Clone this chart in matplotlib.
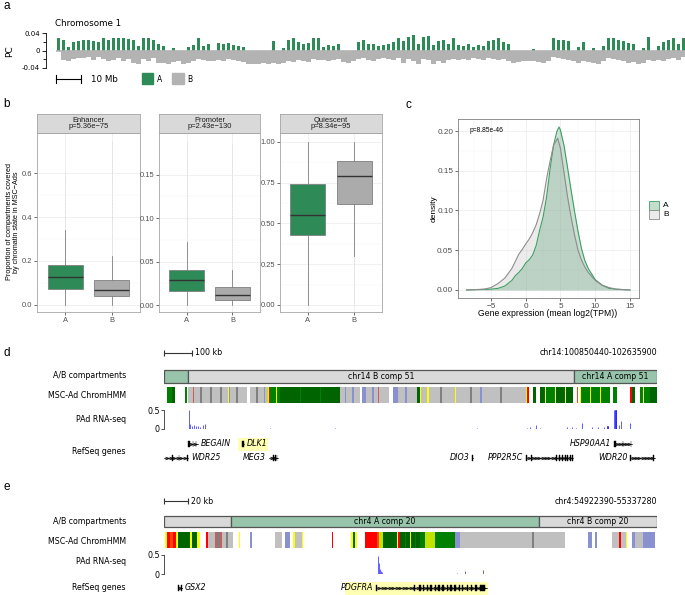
import numpy as np
import matplotlib
matplotlib.use("Agg")
import matplotlib.pyplot as plt
from matplotlib.patches import Rectangle
from matplotlib.transforms import blended_transform_factory

plt.rcParams['font.family'] = 'DejaVu Sans'
GG = 'Liberation Sans'

W, H = 685, 595

# ---------------- data ----------------
# panel a: PC1 on chromosome 1, 2 Mb bins, values x1000 (max A / min B per bin)
pc_bin_mb = 2
pc_pos = [28, 25, 8, 20, 22, 25, 25, 22, 20, 28,
          25, 30, 28, 30, 27, 25, 10, 28, 30, 24,
          15, 10, 0, 5, 0, 0, 8, 12, 30, 10,
          15, 0, 18, 15, 18, 12, 10, 8, 0, 0,
          0, 0, 0, 22, 0, 5, 25, 28, 20, 15,
          18, 28, 30, 8, 12, 10, 15, 0, 0, 0,
          20, 25, 15, 15, 10, 12, 15, 20, 28, 22,
          32, 35, 15, 32, 33, 12, 22, 25, 15, 28,
          12, 10, 15, 8, 12, 10, 22, 25, 28, 20,
          15, 0, 0, 0, 0, 3, 0, 0, 0, 28,
          25, 25, 22, 0, 8, 20, 0, 5, 0, 10,
          28, 30, 25, 22, 18, 15, 0, 5, 32, 0,
          10, 20, 25, 28, 15, 28]
pc_neg = [0, -22, -25, -20, -18, -18, -15, -22, -15, -20,
          -25, -22, -18, -25, -20, -28, -30, -20, -25, -18,
          -28, -28, -30, -26, -25, -30, -28, -24, -20, -22,
          -25, -24, -22, -25, -20, -22, -24, -26, -30, -32,
          -30, -28, -30, -28, -30, -28, -24, -26, -22, -24,
          -26, -20, -22, -22, -24, -22, -20, -26, -28, -24,
          -20, -18, -22, -25, -20, -18, -20, -22, -18, -28,
          -20, -25, -30, -20, -22, -30, -25, -28, -22, -20,
          -22, -20, -22, -18, -20, -22, -18, -20, -22, -20,
          -25, -28, -26, -25, -24, -25, -27, -28, -25, -15,
          -18, -20, -22, -25, -28, -24, -26, -28, -30, -25,
          -18, -20, -22, -25, -28, -26, -30, -28, -22, -25,
          -22, -24, -20, -18, -22, -15]

# panel b: box statistics  [whislo, q1, median, q3, whishi, outlier extreme]
box_states = ['Enhancer', 'Promoter', 'Quiescent']
box_pvals = ['p=5.36e\u221275', 'p=2.43e\u2212130', 'p=8.34e\u221295']
box_A = [[0.0, 0.074, 0.126, 0.183, 0.342, 0.61],
         [0.0, 0.0165, 0.029, 0.040, 0.073, 0.188],
         [0.0, 0.43, 0.555, 0.74, 1.0, 1.0]]
box_B = [[0.0, 0.042, 0.070, 0.115, 0.223, 0.745],
         [0.0, 0.0058, 0.0115, 0.0206, 0.040, 0.186],
         [0.30, 0.62, 0.79, 0.885, 1.0, 0.0]]
box_yticks = [[0, 0.2, 0.4, 0.6], [0, 0.05, 0.10, 0.15], [0, 0.25, 0.5, 0.75, 1.0]]
box_ylabels = [['0.0', '0.2', '0.4', '0.6'], ['0.00', '0.05', '0.10', '0.15'],
               ['0.00', '0.25', '0.50', '0.75', '1.00']]
box_ylim = [(-0.032, 0.782), (-0.008, 0.1977), (-0.043, 1.055)]

# panel c: density of gene expression
dens_A_x = [-8.5, -5, -4, -3, -2, -1.5, -1, -0.5, 0, 0.5, 1, 1.5, 2, 2.5, 3, 3.5, 4,
            4.5, 4.8, 5, 5.5, 6, 6.5, 7, 7.5, 8, 8.5, 9, 9.5, 10, 11, 12, 13, 15]
dens_A_y = [0, 0.001, 0.002, 0.005, 0.012, 0.018, 0.022, 0.027, 0.034, 0.038, 0.044,
            0.056, 0.075, 0.092, 0.117, 0.152, 0.182, 0.200, 0.205, 0.201, 0.182,
            0.155, 0.127, 0.100, 0.075, 0.053, 0.037, 0.027, 0.020, 0.013, 0.006,
            0.002, 0.001, 0]
dens_B_x = [-8.5, -6, -5, -4, -3, -2, -1.5, -1, -0.5, 0, 0.5, 1, 1.5, 2, 2.5, 3, 3.5,
            4, 4.6, 5, 5.5, 6, 6.5, 7, 7.5, 8, 8.5, 9, 10, 11, 12, 13, 15]
dens_B_y = [0, 0.001, 0.003, 0.008, 0.015, 0.027, 0.036, 0.045, 0.051, 0.058, 0.064,
            0.072, 0.082, 0.096, 0.113, 0.140, 0.162, 0.182, 0.191, 0.178, 0.148,
            0.118, 0.093, 0.070, 0.051, 0.038, 0.029, 0.022, 0.012, 0.006, 0.003,
            0.001, 0]

# ChromHMM state colours
state_colors = {'TssA': '#FF0000', 'TssFlnk': '#FF4500', 'Tx': '#008000',
                'TxWk': '#006400', 'EnhG': '#C2E105', 'Enh': '#FFFF00',
                'Het': '#8A91D0', 'TssBiv': '#CD5C5C', 'ReprPC': '#808080',
                'ReprPCWk': '#C0C0C0'}
comp_fill = {'A': '#97C4AA', 'B': '#D9D9D9'}

# panel d: chr14:100850440-102635900 (positions in kb from region start)
region_d = 1785.46
comp_d_edges = [0, 87, 1485, 1785.46]
comp_d_types = ['A', 'B', 'A']
comp_d_names = ['', 'chr14 B comp 51', 'chr14 A comp 51']
hmm_d = [(11, 29, 'Tx'), (29, 40, 'TxWk'), (76, 83, 'Tx'), (87, 105, 'ReprPCWk'),
         (105, 108, 'TssBiv'), (108, 130, 'ReprPCWk'), (130, 138, 'ReprPC'),
         (138, 167, 'ReprPCWk'), (167, 174, 'ReprPC'), (174, 203, 'ReprPCWk'),
         (203, 210, 'ReprPC'), (210, 232, 'ReprPCWk'), (232, 235, 'Enh'), (235, 239, 'Het'),
         (239, 261, 'ReprPCWk'), (261, 268, 'ReprPC'), (268, 301, 'ReprPCWk'),
         (311, 333, 'ReprPCWk'), (333, 340, 'ReprPC'), (340, 362, 'ReprPCWk'),
         (362, 366, 'Het'), (366, 373, 'ReprPCWk'), (373, 377, 'EnhG'), (377, 380, 'Enh'),
         (380, 384, 'TssA'), (384, 406, 'Tx'), (406, 409, 'Enh'), (409, 420, 'Tx'),
         (420, 493, 'TxWk'), (493, 496, 'Tx'), (496, 565, 'TxWk'), (565, 569, 'Tx'),
         (569, 637, 'TxWk'), (637, 656, 'ReprPCWk'), (656, 659, 'Het'),
         (659, 681, 'ReprPCWk'), (681, 688, 'Het'), (688, 710, 'ReprPCWk'),
         (717, 732, 'Het'), (732, 753, 'ReprPCWk'), (753, 761, 'Het'),
         (761, 775, 'ReprPCWk'), (775, 779, 'TssBiv'), (779, 815, 'ReprPCWk'),
         (829, 848, 'Het'), (848, 873, 'ReprPCWk'), (873, 880, 'Het'),
         (880, 916, 'ReprPCWk'), (916, 927, 'TxWk'), (927, 931, 'Enh'),
         (931, 953, 'ReprPCWk'), (953, 960, 'Enh'), (960, 1000, 'ReprPCWk'),
         (1000, 1007, 'ReprPC'), (1007, 1054, 'ReprPCWk'), (1054, 1058, 'Enh'),
         (1058, 1108, 'ReprPCWk'), (1108, 1116, 'ReprPC'), (1116, 1145, 'ReprPCWk'),
         (1145, 1152, 'Het'), (1152, 1217, 'ReprPCWk'), (1217, 1224, 'ReprPC'),
         (1224, 1311, 'ReprPCWk'), (1311, 1315, 'Enh'), (1315, 1322, 'TssA'),
         (1337, 1347, 'TxWk'), (1362, 1380, 'TxWk'), (1380, 1384, 'Enh'),
         (1384, 1416, 'Tx'), (1416, 1420, 'Enh'), (1420, 1452, 'TxWk'), (1452, 1456, 'Enh'),
         (1456, 1481, 'TxWk'), (1496, 1500, 'TssFlnk'), (1507, 1510, 'Enh'),
         (1510, 1543, 'Tx'), (1543, 1547, 'Enh'), (1547, 1579, 'Tx'), (1579, 1583, 'Enh'),
         (1583, 1615, 'Tx'), (1626, 1641, 'Tx'), (1688, 1695, 'TssA'), (1695, 1706, 'TxWk'),
         (1724, 1735, 'Tx'), (1735, 1739, 'Enh'), (1739, 1760, 'Tx'), (1760, 1786, 'TxWk')]
rna_d_pos = [91, 94, 101, 109, 116, 123, 130, 141, 148, 384, 619, 1134, 1315, 1326, 1347,
             1362, 1460, 1478, 1492, 1514, 1550, 1572, 1594, 1605, 1630, 1634, 1637, 1648,
             1655, 1688]
rna_d_val = [0.5, 0.12, 0.08, 0.1, 0.07, 0.09, 0.06, 0.1, 0.14, 0.03, 0.02, 0.03, 0.02,
             0.04, 0.1, 0.02, 0.04, 0.05, 0.03, 0.15, 0.05, 0.04, 0.05, 0.07, 0.5, 0.5,
             0.5, 0.1, 0.2, 0.15]
genes_d = [('BEGAIN', 87, 123, 0, 'right', [(87, 93), (104, 105), (116, 117)]),
           ('DLK1', 284, 291, 0, 'right', [(284, 290)]),
           ('HSP90AA1', 1630, 1695, 0, 'left', [(1630, 1637), (1662, 1664), (1690, 1692)]),
           ('WDR25', 0, 87, 1, 'right', [(30, 31), (55, 56), (84, 87)]),
           ('MEG3', 380, 413, 1, 'left', [(395, 397), (403, 405), (409, 411)]),
           ('DIO3', 1115, 1119, 1, 'left', [(1115, 1119)]),
           ('PPP2R5C', 1311, 1481, 1, 'left', [(1312, 1314), (1330, 1331), (1420, 1424),
                                               (1432, 1435), (1441, 1446), (1452, 1456),
                                               (1461, 1464), (1470, 1474), (1477, 1481)]),
           ('WDR20', 1688, 1778, 1, 'left', [(1688, 1691), (1772, 1776)])]
highlight_d = [(268, 377, 0)]

# panel e: chr4:54922390-55337280
region_e = 414.89
comp_e_edges = [0, 56.4, 315.6, 414.89]
comp_e_types = ['B', 'A', 'B']
comp_e_names = ['', 'chr4 A comp 20', 'chr4 B comp 20']
hmm_e = [(0.8, 2.5, 'Enh'), (2.5, 5.0, 'TssA'), (5.0, 7.6, 'TssFlnk'), (7.6, 10.1, 'TssA'),
         (10.1, 11.8, 'Enh'), (11.8, 21.9, 'TxWk'), (21.9, 23.6, 'Enh'), (23.6, 27.8, 'TxWk'),
         (27.8, 30.3, 'Enh'), (35.3, 37.0, 'TssA'), (37.0, 42.9, 'ReprPCWk'),
         (42.9, 44.6, 'TssBiv'), (44.6, 47.1, 'ReprPC'), (47.1, 48.8, 'TssBiv'),
         (48.8, 52.2, 'ReprPCWk'), (52.2, 53.9, 'ReprPC'), (53.9, 58.1, 'ReprPCWk'),
         (63.1, 63.6, 'Enh'), (72.4, 74.1, 'Het'), (93.4, 99.3, 'ReprPCWk'),
         (101.8, 106.0, 'Het'), (108.6, 110.3, 'Enh'), (110.3, 116.1, 'ReprPCWk'),
         (116.1, 117.0, 'Enh'), (141.4, 142.2, 'TssA'), (157.4, 159.1, 'Enh'),
         (159.1, 160.7, 'TxWk'), (160.7, 162.4, 'Enh'), (169.2, 179.3, 'TssA'),
         (179.3, 180.9, 'TssFlnk'), (180.9, 184.3, 'EnhG'), (184.3, 196.1, 'TxWk'),
         (196.1, 196.9, 'Enh'), (196.9, 198.6, 'TssA'), (198.6, 202.8, 'TxWk'),
         (202.8, 203.7, 'Tx'), (203.7, 207.0, 'TxWk'), (207.0, 207.9, 'Enh'),
         (207.9, 211.2, 'TxWk'), (211.2, 212.1, 'Tx'), (212.1, 215.4, 'TxWk'),
         (215.4, 219.7, 'Tx'), (219.7, 228.1, 'EnhG'), (228.1, 244.9, 'Tx'),
         (244.9, 249.1, 'Het'), (249.1, 309.7, 'ReprPCWk'), (309.7, 311.4, 'ReprPC'),
         (311.4, 337.5, 'ReprPCWk'), (356.8, 360.2, 'Het'), (362.7, 364.4, 'Het'),
         (377.0, 382.9, 'ReprPCWk'), (382.9, 384.6, 'TssA'), (384.6, 388.8, 'ReprPCWk'),
         (388.8, 389.7, 'Enh'), (393.9, 396.4, 'Het'), (396.4, 403.1, 'ReprPCWk'),
         (403.1, 413.2, 'Het')]
rna_e_pos = [180.1, 180.9, 181.8, 182.6, 183.5, 246.6, 253.3, 268.5]
rna_e_val = [0.48, 0.3, 0.12, 0.08, 0.05, 0.02, 0.08, 0.1]
genes_e = [('GSX2', 11.8, 15.2, 0, 'right', [(11.8, 12.6), (14.3, 15.2)]),
           ('PDGFRA', 178.4, 271.8, 0, 'left',
            [(178.4, 179.2), (210, 211), (215, 216), (218, 219), (221, 222), (224, 225.5),
             (228, 229), (231, 232), (234, 235.5), (238, 239), (241, 242), (244, 245.5),
             (248, 249), (251, 252), (255, 256), (258, 259), (262, 263), (266, 270.5)])]
highlight_e = [(152.3, 272.7, 0)]

green = '#2E8B57'
grey = '#B3B3B3'

fig = plt.figure(figsize=(6.85, 5.95), dpi=100)


def add_ax(x0, y0, x1, y1):
    return fig.add_axes([x0 / W, 1 - y1 / H, (x1 - x0) / W, (y1 - y0) / H])


def ftext(x, y, s, **kw):
    kw.setdefault('va', 'center')
    fig.text(x / W, 1 - y / H, s, **kw)


def frect(x0, y0, x1, y1, **kw):
    fig.add_artist(Rectangle((x0 / W, 1 - y1 / H), (x1 - x0) / W, (y1 - y0) / H,
                             transform=fig.transFigure, **kw))


# panel letters
for lab, x, y in [('a', 3, 6), ('b', 3, 104), ('c', 405, 105), ('d', 3, 353), ('e', 3, 487)]:
    ftext(x, y, lab, fontsize=8.5, family=GG)

# ---------------- a ----------------
axa = add_ax(46, 31, 685, 70)
bins = np.arange(len(pc_pos)) * pc_bin_mb
axa.bar(bins, np.array(pc_neg) / 1000, width=pc_bin_mb, align='edge', color=grey, lw=0)
axa.bar(bins + pc_bin_mb * 0.15, np.array(pc_pos) / 1000, width=pc_bin_mb * 0.7,
        align='edge', color=green, lw=0)
axa.hlines(0, 0, bins[-1] + pc_bin_mb, color=grey, lw=1.2)
axa.set_xlim(-4, 251.6)
axa.set_ylim(-0.045, 0.045)
for s in ['top', 'right', 'bottom']:
    axa.spines[s].set_visible(False)
axa.spines['left'].set_bounds(-0.04, 0.04)
axa.spines['left'].set_linewidth(0.6)
axa.set_xticks([])
axa.set_yticks([-0.04, 0, 0.04], ['-0.04', '0', '0.04'])
axa.set_yticks([-0.02, 0.02], minor=True)
axa.tick_params(axis='y', which='major', length=3, width=0.6, labelsize=5, pad=1.5)
axa.tick_params(axis='y', which='minor', length=2, width=0.6)
axa.patch.set_visible(False)
ftext(10, 51, 'PC', rotation=90, ha='center', fontsize=6.5)
ftext(55, 23, 'Chromosome 1', fontsize=6.3)
tr = blended_transform_factory(axa.transData, fig.transFigure)
yb = 1 - 79 / H
axa.plot([0, 10], [yb, yb], transform=tr, color='black', lw=0.8, clip_on=False)
for xx in [0, 10]:
    axa.plot([xx, xx], [yb - 4 / H, yb + 4 / H], transform=tr, color='black', lw=0.8,
             clip_on=False)
ftext(91, 79, '10 Mb', fontsize=6.3)
frect(142, 73, 153, 84, color=green)
ftext(157, 79, 'A', fontsize=5.5)
frect(172, 73, 184, 84, color=grey)
ftext(187, 79, 'B', fontsize=5.5)

# ---------------- b ----------------
panel_x = [(37, 140), (159, 260), (280, 382)]
for k in range(3):
    x0, x1 = panel_x[k]
    ax = add_ax(x0, 133, x1, 312)
    stats = []
    for st in (box_A[k], box_B[k]):
        stats.append(dict(whislo=st[0], q1=st[1], med=st[2], q3=st[3], whishi=st[4],
                          fliers=[]))
    ax.set_axisbelow(True)
    for i, st in enumerate((box_A[k], box_B[k])):
        if st[5] != st[4]:
            lo, hi = sorted([st[5], st[4] if st[5] > st[4] else st[0]])
            ax.vlines(i + 1, lo, hi, colors='#C8C8C8', lw=0.5, linestyles=(0, (1, 1.5)))
    bp = ax.bxp(stats, positions=[1, 2], widths=0.75, patch_artist=True, showfliers=False,
                showcaps=False,
                boxprops=dict(edgecolor='#7F7F7F', lw=0.6),
                medianprops=dict(color='#333333', lw=1.0),
                whiskerprops=dict(color='#7F7F7F', lw=0.6))
    bp['boxes'][0].set_facecolor(green)
    bp['boxes'][1].set_facecolor('#ABABAB')
    ax.set_xlim(0.4, 2.6)
    ax.set_ylim(*box_ylim[k])
    ax.set_xticks([1, 2], ['A', 'B'])
    ax.set_yticks(box_yticks[k], box_ylabels[k])
    yt = box_yticks[k]
    ax.set_yticks([(a + b) / 2 for a, b in zip(yt[:-1], yt[1:])], minor=True)
    ax.grid(True, which='major', color='#EBEBEB', lw=0.5)
    ax.grid(True, which='minor', axis='y', color='#F4F4F4', lw=0.35)
    ax.tick_params(which='major', length=2, width=0.5, color='#333333', labelsize=5.4,
                   labelcolor='#4D4D4D', pad=1.5)
    ax.tick_params(which='minor', length=0)
    for lbl in ax.get_xticklabels() + ax.get_yticklabels():
        lbl.set_family(GG)
    for s in ax.spines.values():
        s.set_color('#A6A6A6')
        s.set_linewidth(0.6)
    axs = add_ax(x0, 114, x1, 133)
    axs.set_facecolor('#D9D9D9')
    axs.set_xticks([])
    axs.set_yticks([])
    for s in axs.spines.values():
        s.set_color('#A6A6A6')
        s.set_linewidth(0.6)
    axs.text(0.5, 0.5, box_states[k] + '\n' + box_pvals[k], ha='center', va='center',
             fontsize=5.4, family=GG, color='#1A1A1A', linespacing=1.0,
             transform=axs.transAxes)
ftext(13, 222, 'Proportion of compartments covered\nby chromatin state in MSC\u2212Ads',
      rotation=90, ha='center', fontsize=5.2, family=GG, linespacing=1.0)

# ---------------- c ----------------
axc = add_ax(458, 119, 639, 298)
axc.set_axisbelow(True)
axc.fill_between(dens_B_x, dens_B_y, color='#BDBDBD', alpha=0.3, lw=0)
axc.fill_between(dens_A_x, dens_A_y, color=green, alpha=0.25, lw=0)
axc.plot(dens_A_x, dens_A_y, color='#3E9E63', lw=0.8)
axc.plot(dens_B_x, dens_B_y, color='#8C8C8C', lw=0.8)
axc.set_xlim(-9.75, 16.3)
axc.set_ylim(-0.0101, 0.2151)
axc.set_xticks([-5, 0, 5, 10, 15], ['\u22125', '0', '5', '10', '15'])
axc.set_xticks([-7.5, -2.5, 2.5, 7.5, 12.5], minor=True)
axc.set_yticks([0, 0.05, 0.10, 0.15, 0.20], ['0.00', '0.05', '0.10', '0.15', '0.20'])
axc.set_yticks([0.025, 0.075, 0.125, 0.175], minor=True)
axc.grid(True, which='major', color='#EBEBEB', lw=0.5)
axc.grid(True, which='minor', color='#F4F4F4', lw=0.35)
axc.tick_params(which='major', length=2, width=0.5, color='#333333', labelsize=5.9,
                labelcolor='#4D4D4D', pad=1.5)
axc.tick_params(which='minor', length=0)
for lbl in axc.get_xticklabels() + axc.get_yticklabels():
    lbl.set_family(GG)
for s in axc.spines.values():
    s.set_color('#7F7F7F')
    s.set_linewidth(0.6)
ftext(470, 130, 'p=8.85e-46', fontsize=4.8, family=GG)
ftext(434, 209, 'density', rotation=90, ha='center', fontsize=6.0, family=GG)
ftext(548, 314, 'Gene expression (mean log2(TPM))', ha='center', fontsize=6.2, family=GG)
frect(649, 201, 659, 210, facecolor='#C4DDCD', edgecolor='#3E9E63', lw=0.6)
frect(649, 210, 659, 219, facecolor='#EBEBEB', edgecolor='#8C8C8C', lw=0.6)
ftext(663, 205.5, 'A', fontsize=6.0, family=GG)
ftext(663, 214.5, 'B', fontsize=6.0, family=GG)


# ---------------- d / e browser tracks ----------------
def browser(lay, region, scale_kb, scale_txt, coord_txt, comp_edges, comp_types,
            comp_names, hmm, rna_pos, rna_val, rna_w, genes, highlight):
    ax = add_ax(164, lay['top'], 657, lay['bottom'])
    ax.set_xlim(0, region)
    ax.set_ylim(lay['bottom'], lay['top'])
    ax.axis('off')
    y = lay['scale']
    ax.plot([0, scale_kb], [y, y], color='#333333', lw=0.8, clip_on=False)
    ax.vlines([0, scale_kb], y - 3, y + 3, color='#333333', lw=0.8, clip_on=False)
    ax.annotate(scale_txt, (scale_kb, y), xytext=(2.5, 0), textcoords='offset points',
                va='center', fontsize=5.7)
    ax.text(region, y, coord_txt, ha='right', va='center', fontsize=5.7)
    c0, c1 = lay['comp']
    for s, e, t, n in zip(comp_edges[:-1], comp_edges[1:], comp_types, comp_names):
        ax.add_patch(Rectangle((s, c0), e - s, c1 - c0, facecolor=comp_fill[t],
                               edgecolor='#555555', lw=0.9))
        ax.text((s + e) / 2, (c0 + c1) / 2 + 0.5, n, ha='center', va='center', fontsize=5.6)
    h0, h1 = lay['hmm']
    for s, e, st in hmm:
        ax.add_patch(Rectangle((s, h0), e - s, h1 - h0, facecolor=state_colors[st], lw=0))
    for s, e, r in highlight:
        yy = lay['genes'][r]
        ax.add_patch(Rectangle((s, yy - 6.5), e - s, 13, facecolor='#FFFFB4', lw=0))
    for name, s, e, r, side, ex in genes:
        yy = lay['genes'][r]
        ax.plot([s, e], [yy, yy], color='black', lw=0.5)
        n = int((e - s) / region * 493 / 3.5)
        if n > 0:
            cx = np.linspace(s, e, n + 2)[1:-1]
            ax.plot(cx, np.full(len(cx), yy), ls='none', marker='$>$', ms=2.6,
                    color='black', mew=0.2)
        ax.broken_barh([(a, b - a) for a, b in ex], (yy - 3, 6), facecolors='black',
                       edgecolors='black', lw=0.3)
        if side == 'right':
            ax.annotate(name, (e, yy), xytext=(2, 0), textcoords='offset points',
                        ha='left', va='center', fontsize=5.7, style='italic')
        else:
            ax.annotate(name, (s, yy), xytext=(-2, 0), textcoords='offset points',
                        ha='right', va='center', fontsize=5.7, style='italic')
    r0, r1 = lay['rna']
    axr = add_ax(164, r0, 657, r1)
    axr.set_xlim(0, region)
    axr.set_ylim(0, 0.5)
    axr.hlines(0, 0, region, color='#D8D8E8', lw=0.6)
    axr.bar(rna_pos, rna_val, width=rna_w, color='#0000FF', edgecolor='#2020FF', lw=0.5)
    for s in ['top', 'right', 'bottom']:
        axr.spines[s].set_visible(False)
    axr.spines['left'].set_linewidth(0.6)
    axr.spines['left'].set_color('#333333')
    axr.set_xticks([])
    axr.set_yticks([0, 0.5], ['0', '0.5'])
    axr.tick_params(axis='y', length=2, width=0.6, labelsize=5.7, pad=1, color='#333333')
    axr.patch.set_visible(False)
    for txt, yy in zip(['A/B compartments', 'MSC-Ad ChromHMM', 'PAd RNA-seq',
                        'RefSeq genes'], lay['labels']):
        ftext(126, yy, txt, ha='right', fontsize=5.7)


lay_d = dict(top=345, bottom=470, scale=353, comp=(370, 383), hmm=(387, 403),
             rna=(410, 429), genes=[444, 458], labels=[376, 395, 420, 452])
browser(lay_d, region_d, 100, '100 kb', 'chr14:100850440-102635900', comp_d_edges,
        comp_d_types, comp_d_names, hmm_d, rna_d_pos, rna_d_val, 2.5, genes_d, highlight_d)

lay_e = dict(top=495, bottom=595, scale=501, comp=(516, 527), hmm=(532, 548),
             rna=(555, 574), genes=[588], labels=[522, 541, 562, 588])
browser(lay_e, region_e, 20, '20 kb', 'chr4:54922390-55337280', comp_e_edges,
        comp_e_types, comp_e_names, hmm_e, rna_e_pos, rna_e_val, 0.7, genes_e, highlight_e)

fig.savefig('out.png', dpi=100)
